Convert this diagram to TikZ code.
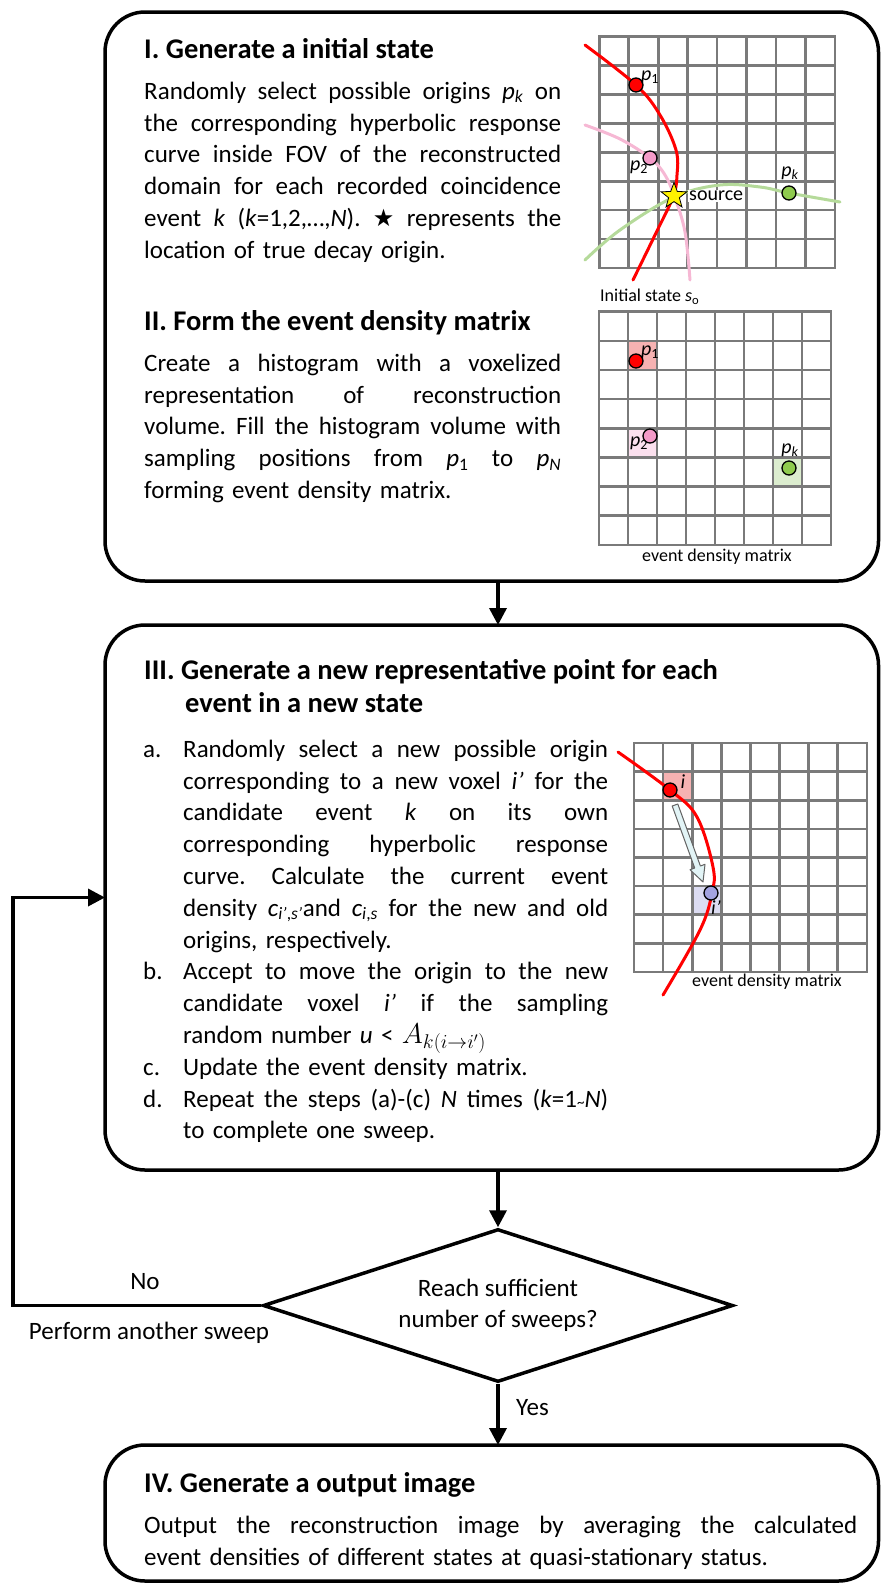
\documentclass[tikz,border=0pt]{standalone}
\usepackage{fontspec}
\setmainfont{Carlito}
\newfontfamily\symfont{DejaVu Sans}
\usetikzlibrary{arrows.meta,shapes.geometric}
\frenchspacing
\definecolor{gridgray}{HTML}{7A7A7A}
\definecolor{cred}{HTML}{FF0000}
\definecolor{cpinkline}{HTML}{F6B8D4}
\definecolor{cpinkdot}{HTML}{F39AC8}
\definecolor{cgreenline}{HTML}{B5DA9A}
\definecolor{cgreendot}{HTML}{8FCB4E}
\definecolor{hred}{HTML}{F6B2B2}
\definecolor{hpink}{HTML}{FBE0EE}
\definecolor{hgreen}{HTML}{DCEDCF}
\definecolor{hblue}{HTML}{DCDCF2}
\definecolor{cbluedot}{HTML}{A3A3E0}
\definecolor{arrfill}{HTML}{E2F4F6}
\newcommand\bodyfont{\fontsize{25}{31.8}\selectfont}
\newcommand\ttlfont{\fontsize{28.5}{33}\selectfont\bfseries}
\newcommand\labfont{\fontsize{20}{22}\selectfont}
\newcommand\capfont{\fontsize{18}{20}\selectfont}
\newcommand\JL[2]{\makebox[#1pt][s]{\spaceskip=0.226em plus 1fil\xspaceskip=0.226em plus 1fil\relax #2}}
\newcommand\drawgrid[4]{%
  \foreach \i in {0,...,8}{%
    \draw[gridline] ({#1+\i*#3},{#2}) -- ({#1+\i*#3},{#2+8*#4});
    \draw[gridline] ({#1},{#2+\i*#4}) -- ({#1+8*#3},{#2+\i*#4});
  }}
\tikzset{
  box/.style={draw, line width=3.5pt, rounded corners=40pt, minimum width=773.5pt, inner sep=0pt, outer sep=0pt},
  conn/.style={line width=3.5pt, -{Triangle[length=17pt,width=17pt]}},
  gridline/.style={draw=gridgray, line width=2.6pt, line cap=rect},
  bodytext/.style={font=\bodyfont, inner sep=0pt, anchor=north west, align=left},
  ttl/.style={font=\ttlfont, inner sep=0pt, anchor=base west},
  dot/.style={circle, draw=black, line width=1.3pt, minimum size=14pt, inner sep=0pt},
  lab/.style={font=\labfont, inner sep=0.5pt},
  curve/.style={line width=3pt, line cap=round},
}
\begin{document}
\begin{tikzpicture}[x=1pt,y=-1pt]
\useasboundingbox (0,0) rectangle (881,1585);

% ---------------- main boxes ----------------
\node[box, minimum height=569pt] (b1) at (491.75,296.5) {};
\node[box, minimum height=545pt] (b3) at (491.75,897.5) {};
\node[box, minimum height=136pt] (b4) at (491.75,1513) {};
\node[draw, diamond, line width=3.5pt, minimum width=470pt, minimum height=153pt, inner sep=0pt, shape aspect=3, font=\fontsize{25}{31}\selectfont, align=center] (dm) at (498,1305.5) {\strut Reach sufficient\\number of sweeps?\strut};

% ---------------- connectors ----------------
\draw[conn] (b1.south -| dm.north) -- (b3.north -| dm.north);
\draw[conn] (b3.south -| dm.north) -- (dm.north);
\draw[conn] (dm.south) -- (b4.north -| dm.south);
\coordinate (lc) at (13,1305.5);
\draw[conn] (dm.west) -- (lc) |- (b3.west);
\node[font=\bodyfont, anchor=base west, inner sep=0pt] (yes) at (516,1415) {Yes};
\node[font=\bodyfont, anchor=base, inner sep=0pt] (no) at (145,1289) {No};
\node[font=\bodyfont, anchor=base, inner sep=0pt] (pas) at (149,1339) {Perform another sweep};

% ---------------- box I ----------------
\node[ttl] (t1) at (144,58) {I. Generate a initial state};
\node[bodytext, text width=417pt] (x1) at (144,76.74) {\strut\JL{417}{Randomly select possible origins \textit{p}\textsubscript{\textit{k}} on}\\
\JL{417}{the corresponding hyperbolic response}\\
\JL{417}{curve inside FOV of the reconstructed}\\
\JL{417}{domain for each recorded coincidence}\\
\JL{417}{event \textit{k} (\textit{k}=1,2,…,\textit{N}). {\symfont\fontsize{24}{24}\selectfont ★} represents the}\\
location of true decay origin.};
\node[ttl] (t2) at (144,330) {II. Form the event density matrix};
\node[bodytext, text width=417pt] (x2) at (144,348.74) {\strut\JL{417}{Create a histogram with a voxelized}\\
\JL{417}{representation of reconstruction}\\
\JL{417}{volume. Fill the histogram volume with}\\
\JL{417}{sampling positions from \textit{p}\textsubscript{1} to \textit{p}\textsubscript{\textit{N}}}\\
forming event density matrix.};

% grid 1 : initial state
\drawgrid{599.3}{36.7}{29.45}{28.9}
\draw[curve, cgreenline] plot[smooth, tension=0.6] coordinates {(585,260) (620,230) (674,197) (720,185) (760,187) (789,193) (840,202)};
\draw[curve, cpinkline] plot[smooth, tension=0.6] coordinates {(585,125) (620,139) (650,158) (665,175) (675,198) (685,232) (690,280)};
\draw[curve, cred] plot[smooth, tension=0.6] coordinates {(585,45) (636,85) (660,115) (676,150) (677,175) (673,197) (655,235) (633,280)};
\node[font=\labfont, fill=white, inner sep=1pt, anchor=west] (srcl) at (688,196) {source};
\node[star, star points=5, star point ratio=2.4, fill=yellow, draw=black, line width=0.8pt, minimum size=27pt, inner sep=0pt] (src) at (674,196) {};
\node[dot, fill=cred] (g1p1) at (636,85) {};
\node[dot, fill=cpinkdot] (g1p2) at (650,158) {};
\node[dot, fill=cgreendot] (g1pk) at (789,193) {};
\node[lab] (g1l1) at (650,77) {\textit{p}\textsubscript{1}};
\node[lab] (g1l2) at (639,167) {\textit{p}\textsubscript{2}};
\node[lab, fill=white] (g1lk) at (790,173) {\textit{p}\textsubscript{\textit{k}}};
\node[font=\capfont, anchor=west, inner sep=0pt] (cap1) at (600,297) {Initial state \textit{s}\textsubscript{o}};

% grid 2 : event density matrix
\fill[hred] (628,341) rectangle (657,370.1);
\fill[hpink] (628,428.5) rectangle (657,457.7);
\fill[hgreen] (773,457.7) rectangle (802,486.9);
\drawgrid{599}{311.7}{29}{29.15}
\node[dot, fill=cred] (g2p1) at (636,361) {};
\node[dot, fill=cpinkdot] (g2p2) at (650,436) {};
\node[dot, fill=cgreendot] (g2pk) at (789,468) {};
\node[lab] (g2l1) at (650,352) {\textit{p}\textsubscript{1}};
\node[lab] (g2l2) at (639,443) {\textit{p}\textsubscript{2}};
\node[lab] (g2lk) at (790,450) {\textit{p}\textsubscript{\textit{k}}};
\node[font=\capfont, inner sep=0pt] (cap2) at (717,557) {event density matrix};

% ---------------- box III ----------------
\node[ttl, anchor=north west, align=left] (t3) at (144,655.9) {\strut III. Generate a new representative point for each\\\hspace*{41pt}event in a new state};
\node[bodytext, text width=465pt] (x3) at (143,734.74) {\strut\makebox[40pt][l]{a.}\JL{425}{Randomly select a new possible origin}\\
\hspace*{40pt}\JL{425}{corresponding to a new voxel \textit{i'} for the}\\
\hspace*{40pt}\JL{425}{candidate event \textit{k} on its own}\\
\hspace*{40pt}\JL{425}{corresponding hyperbolic response}\\
\hspace*{40pt}\JL{425}{curve. Calculate the current event}\\
\hspace*{40pt}\JL{425}{density \textit{c}\textsubscript{\textit{i'},\textit{s'}}and \textit{c}\textsubscript{\textit{i},\textit{s}} for the new and old}\\
\hspace*{40pt}origins, respectively.\\
\makebox[40pt][l]{b.}\JL{425}{Accept to move the origin to the new}\\
\hspace*{40pt}\JL{425}{candidate voxel \textit{i'} if the sampling}\\
\hspace*{40pt}random number \textit{u} < \smash{\scalebox{1.15}{$A_{k(i\rightarrow i')}$}}\\
\makebox[40pt][l]{c.}Update the event density matrix.\\
\makebox[40pt][l]{d.}\JL{425}{Repeat the steps (a)-(c) \textit{N} times (\textit{k}=1{\fontsize{15}{15}\selectfont\textasciitilde}\textit{N})}\\
\hspace*{40pt}to complete one sweep.};

% grid 3
\fill[hred] (663.1,771.6) rectangle (692.2,800.2);
\fill[hblue] (692.2,886) rectangle (721.3,914.6);
\drawgrid{634}{743}{29.1}{28.6}
\draw[curve, cred] plot[smooth, tension=0.6] coordinates {(618,752) (670,790) (697,817) (713,867) (712,893) (700,930) (663,995)};
\fill[arrfill, draw=gridgray!80!black, line width=1pt, line join=round] (677.8,804.0) -- (700.4,866.0) -- (705.0,864.3) -- (703,882) -- (690.0,869.7) -- (694.7,868.0) -- (672.2,806.0) -- cycle;
\node[dot, fill=cred] (g3i) at (670,790) {};
\node[dot, fill=cbluedot] (g3j) at (711,893) {};
\node[lab] (g3li) at (683,782) {\textit{i}};
\node[lab] (g3lj) at (716,908) {\textit{i'}};
\node[font=\capfont, inner sep=0pt] (cap3) at (767,982) {event density matrix};

% ---------------- box IV ----------------
\node[ttl] (t4) at (144,1492) {IV. Generate a output image};
\node[bodytext, text width=713pt] (x4) at (144,1510.74) {\strut\JL{713}{Output the reconstruction image by averaging the calculated}\\
event densities of different states at quasi-stationary status.};
\end{tikzpicture}
\end{document}
